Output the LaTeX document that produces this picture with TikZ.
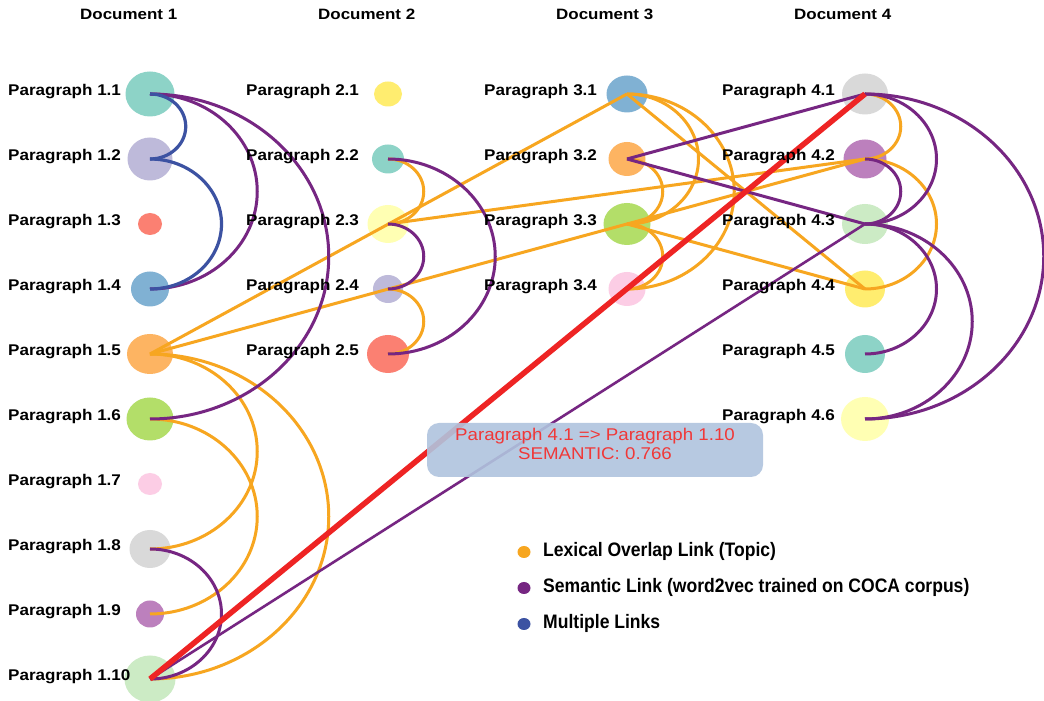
\documentclass[tikz,border=0pt]{standalone}
\usepackage{fontspec}
\setmainfont{Liberation Sans}
\newfontfamily\lblfont{Liberation Sans}[FakeStretch=1.1]
\newfontfamily\hdrfont{Liberation Sans}[FakeStretch=1.13]
\newfontfamily\legfont{Liberation Sans}[FakeStretch=0.9]
\newfontfamily\tipfont{Liberation Sans}[FakeStretch=1.1]
\usetikzlibrary{shapes.geometric,calc}
\definecolor{lexc}{RGB}{247,166,32}
\definecolor{semc}{RGB}{118,38,130}
\definecolor{mulc}{RGB}{60,82,162}
\definecolor{hlc}{RGB}{238,36,36}
\definecolor{tipfill}{RGB}{176,196,222}
\definecolor{tiptext}{RGB}{240,56,56}
\definecolor{sA}{HTML}{8DD3C7}
\definecolor{sB}{HTML}{FFFFB3}
\definecolor{sC}{HTML}{BEBADA}
\definecolor{sD}{HTML}{FB8072}
\definecolor{sE}{HTML}{80B1D3}
\definecolor{sF}{HTML}{FDB462}
\definecolor{sG}{HTML}{B3DE69}
\definecolor{sH}{HTML}{FCCDE5}
\definecolor{sI}{HTML}{D9D9D9}
\definecolor{sJ}{HTML}{BC80BD}
\definecolor{sK}{HTML}{CCEBC5}
\definecolor{sL}{HTML}{FFED6F}
\tikzset{
  para/.style={ellipse, inner sep=0pt, draw=none},
  lbl/.style={anchor=base west, inner sep=0pt, font=\lblfont\bfseries\fontsize{15.5}{18}\selectfont},
  hdr/.style={anchor=base west, inner sep=0pt, font=\hdrfont\bfseries\fontsize{15}{18}\selectfont},
  leg/.style={anchor=base west, inner sep=0pt, font=\legfont\bfseries\fontsize{19.5}{22}\selectfont},
  legdot/.style={ellipse, inner sep=0pt, minimum width=13pt, minimum height=12pt},
  tiptxt/.style={anchor=base, inner sep=0pt, text=tiptext, font=\tipfont\fontsize{17}{19}\selectfont},
  tipbox/.style={rectangle, rounded corners=12pt, fill=tipfill, fill opacity=0.9, minimum width=336pt, minimum height=54pt, inner sep=0pt},
  lexlink/.style={draw=lexc, line width=3pt},
  semlink/.style={draw=semc, line width=3pt},
  mullink/.style={draw=mulc, line width=3.2pt},
  hilink/.style={draw=hlc, line width=5.5pt},
  arcto/.style={to path={let \p1=(\tikztostart), \p2=(\tikztotarget), \n1={(\y1-\y2)/2} in arc[start angle=90, end angle=-90, x radius={1.1*\n1}, y radius={\n1}]}},
}
\begin{document}
\begin{tikzpicture}[x=1pt,y=1pt]
\useasboundingbox (0,0) rectangle (1044,701);
\fill[white] (0,0) rectangle (1044,701);
% headers
\node[hdr] (h1) at (80,681) {Document 1};
\node[hdr] (h2) at (318,681) {Document 2};
\node[hdr] (h3) at (556,681) {Document 3};
\node[hdr] (h4) at (794,681) {Document 4};
% document 1 nodes
\node[para, fill=sA, minimum width=49pt, minimum height=45pt] (p1-1) at (150,607) {};
\node[para, fill=sC, minimum width=45pt, minimum height=43pt] (p1-2) at (150,542) {};
\node[para, fill=sD, minimum width=24pt, minimum height=22pt] (p1-3) at (150,477) {};
\node[para, fill=sE, minimum width=38pt, minimum height=35pt] (p1-4) at (150,412) {};
\node[para, fill=sF, minimum width=46pt, minimum height=40pt] (p1-5) at (150,347) {};
\node[para, fill=sG, minimum width=47pt, minimum height=43pt] (p1-6) at (150,282) {};
\node[para, fill=sH, minimum width=24pt, minimum height=22pt] (p1-7) at (150,217) {};
\node[para, fill=sI, minimum width=41pt, minimum height=38pt] (p1-8) at (150,152) {};
\node[para, fill=sJ, minimum width=28pt, minimum height=27pt] (p1-9) at (150,87) {};
\node[para, fill=sK, minimum width=51pt, minimum height=47pt] (p1-10) at (150,22) {};
% document 2 nodes
\node[para, fill=sL, minimum width=28pt, minimum height=25pt] (p2-1) at (388,607) {};
\node[para, fill=sA, minimum width=32pt, minimum height=29pt] (p2-2) at (388,542) {};
\node[para, fill=sB, minimum width=41pt, minimum height=38pt] (p2-3) at (388,477) {};
\node[para, fill=sC, minimum width=30pt, minimum height=28pt] (p2-4) at (388,412) {};
\node[para, fill=sD, minimum width=42pt, minimum height=38pt] (p2-5) at (388,347) {};
% document 3 nodes
\node[para, fill=sE, minimum width=41pt, minimum height=37pt] (p3-1) at (627,607) {};
\node[para, fill=sF, minimum width=37pt, minimum height=34pt] (p3-2) at (627,542) {};
\node[para, fill=sG, minimum width=47pt, minimum height=42pt] (p3-3) at (627,477) {};
\node[para, fill=sH, minimum width=37pt, minimum height=34pt] (p3-4) at (627,412) {};
% document 4 nodes
\node[para, fill=sI, minimum width=46pt, minimum height=41pt] (p4-1) at (865,607) {};
\node[para, fill=sJ, minimum width=43pt, minimum height=39pt] (p4-2) at (865,542) {};
\node[para, fill=sK, minimum width=46pt, minimum height=40pt] (p4-3) at (865,477) {};
\node[para, fill=sL, minimum width=40pt, minimum height=37pt] (p4-4) at (865,412) {};
\node[para, fill=sA, minimum width=40pt, minimum height=38pt] (p4-5) at (865,347) {};
\node[para, fill=sB, minimum width=48pt, minimum height=44pt] (p4-6) at (865,282) {};
% lexical links
\draw[lexlink] (p1-5.center) to[arcto] (p1-8.center);
\draw[lexlink] (p1-6.center) to[arcto] (p1-9.center);
\draw[lexlink] (p1-5.center) to[arcto] (p1-10.center);
\draw[lexlink] (p2-2.center) to[arcto] (p2-3.center);
\draw[lexlink] (p2-4.center) to[arcto] (p2-5.center);
\draw[lexlink] (p3-1.center) to[arcto] (p3-3.center);
\draw[lexlink] (p3-1.center) to[arcto] (p3-4.center);
\draw[lexlink] (p3-2.center) to[arcto] (p3-3.center);
\draw[lexlink] (p3-3.center) to[arcto] (p3-4.center);
\draw[lexlink] (p4-1.center) to[arcto] (p4-2.center);
\draw[lexlink] (p4-2.center) to[arcto] (p4-4.center);
\draw[lexlink] (p1-5.center) -- (p3-1.center);
\draw[lexlink] (p1-5.center) -- (p3-3.center);
\draw[lexlink] (p2-3.center) -- (p4-2.center);
\draw[lexlink] (p3-3.center) -- (p4-2.center);
\draw[lexlink] (p3-1.center) -- (p4-4.center);
\draw[lexlink] (p3-3.center) -- (p4-4.center);
% semantic links
\draw[semlink] (p1-1.center) to[arcto] (p1-4.center);
\draw[semlink] (p1-1.center) to[arcto] (p1-6.center);
\draw[semlink] (p1-8.center) to[arcto] (p1-10.center);
\draw[semlink] (p2-2.center) to[arcto] (p2-5.center);
\draw[semlink] (p2-3.center) to[arcto] (p2-4.center);
\draw[semlink] (p4-1.center) to[arcto] (p4-3.center);
\draw[semlink] (p4-1.center) to[arcto] (p4-6.center);
\draw[semlink] (p4-2.center) to[arcto] (p4-3.center);
\draw[semlink] (p4-3.center) to[arcto] (p4-5.center);
\draw[semlink] (p4-3.center) to[arcto] (p4-6.center);
\draw[semlink] (p3-2.center) -- (p4-1.center);
\draw[semlink] (p3-2.center) -- (p4-3.center);
\draw[semlink, line width=2.6pt] (p1-10.center) -- (p4-3.center);
% multiple links
\draw[mullink] (p1-1.center) to[arcto] (p1-2.center);
\draw[mullink] (p1-2.center) to[arcto] (p1-4.center);
% highlighted link
\draw[hilink] (p1-10.center) -- (p4-1.center);
% labels
\node[lbl] (l1-1) at (8,605) {Paragraph 1.1};
\node[lbl] (l1-2) at (8,540) {Paragraph 1.2};
\node[lbl] (l1-3) at (8,475) {Paragraph 1.3};
\node[lbl] (l1-4) at (8,410) {Paragraph 1.4};
\node[lbl] (l1-5) at (8,345) {Paragraph 1.5};
\node[lbl] (l1-6) at (8,280) {Paragraph 1.6};
\node[lbl] (l1-7) at (8,215) {Paragraph 1.7};
\node[lbl] (l1-8) at (8,150) {Paragraph 1.8};
\node[lbl] (l1-9) at (8,85) {Paragraph 1.9};
\node[lbl] (l1-10) at (8,20) {Paragraph 1.10};
\node[lbl] (l2-1) at (246,605) {Paragraph 2.1};
\node[lbl] (l2-2) at (246,540) {Paragraph 2.2};
\node[lbl] (l2-3) at (246,475) {Paragraph 2.3};
\node[lbl] (l2-4) at (246,410) {Paragraph 2.4};
\node[lbl] (l2-5) at (246,345) {Paragraph 2.5};
\node[lbl] (l3-1) at (484,605) {Paragraph 3.1};
\node[lbl] (l3-2) at (484,540) {Paragraph 3.2};
\node[lbl] (l3-3) at (484,475) {Paragraph 3.3};
\node[lbl] (l3-4) at (484,410) {Paragraph 3.4};
\node[lbl] (l4-1) at (722,605) {Paragraph 4.1};
\node[lbl] (l4-2) at (722,540) {Paragraph 4.2};
\node[lbl] (l4-3) at (722,475) {Paragraph 4.3};
\node[lbl] (l4-4) at (722,410) {Paragraph 4.4};
\node[lbl] (l4-5) at (722,345) {Paragraph 4.5};
\node[lbl] (l4-6) at (722,280) {Paragraph 4.6};
% tooltip
\node[tipbox] (tip) at (595,251) {};
\node[tiptxt] (tipa) at (595,260) {Paragraph 4.1 => Paragraph 1.10};
\node[tiptxt] (tipb) at (595,241) {SEMANTIC: 0.766};
% legend
\node[legdot, fill=lexc] (k1) at (524,149) {};
\node[legdot, fill=semc] (k2) at (524,113) {};
\node[legdot, fill=mulc] (k3) at (524,77) {};
\node[leg] (k1t) at (543,144) {Lexical Overlap Link (Topic)};
\node[leg] (k2t) at (543,108) {Semantic Link (word2vec trained on COCA corpus)};
\node[leg] (k3t) at (543,72) {Multiple Links};
\end{tikzpicture}
\end{document}
